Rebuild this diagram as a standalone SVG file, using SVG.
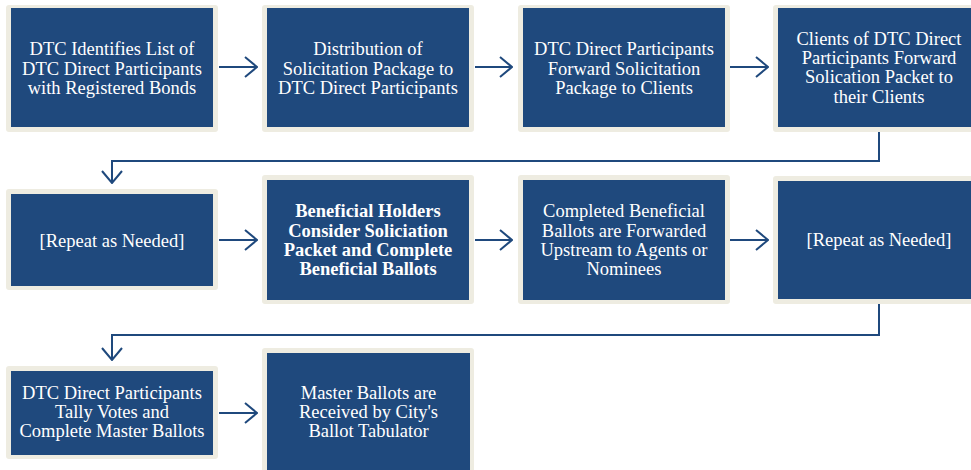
<svg xmlns="http://www.w3.org/2000/svg" width="971" height="470" viewBox="0 0 971 470">
  <defs>
    <marker id="chevron" viewBox="0 0 14 22" refX="13" refY="11" markerWidth="14" markerHeight="22" markerUnits="userSpaceOnUse" orient="auto">
      <path d="M1,1 L13,11 L1,21" fill="none" stroke="#1F497D" stroke-width="2"/>
    </marker>
  </defs>
  <style>
    .frame { fill: #EEECE1; }
    .box { fill: #1F497D; }
    .lbl { font-size: 18.5px; fill: #FFFFFF; text-anchor: middle; }
    .bold { font-weight: bold; }
    .conn { fill: none; stroke: #1F497D; stroke-width: 2; marker-end: url(#chevron); }
  </style>

  <rect width="971" height="470" fill="#FFFFFF"/>

  <g font-family="'Liberation Serif', 'Times New Roman', 'DejaVu Serif', serif">
  <!-- row 1 -->
  <g id="n1">
    <rect class="frame" x="6" y="5" width="212" height="127" rx="3"/>
    <rect class="box" x="11" y="8" width="202" height="119"/>
    <text class="lbl"><tspan x="112" y="55">DTC Identifies List of</tspan><tspan x="112" y="74.5">DTC Direct Participants</tspan><tspan x="112" y="94">with Registered Bonds</tspan></text>
  </g>
  <g id="n2">
    <rect class="frame" x="262" y="5" width="212" height="127" rx="3"/>
    <rect class="box" x="267" y="8" width="202" height="119"/>
    <text class="lbl"><tspan x="368" y="55">Distribution of</tspan><tspan x="368" y="74.5">Solicitation Package to</tspan><tspan x="368" y="94">DTC Direct Participants</tspan></text>
  </g>
  <g id="n3">
    <rect class="frame" x="518" y="5" width="212" height="127" rx="3"/>
    <rect class="box" x="523" y="8" width="202" height="119"/>
    <text class="lbl"><tspan x="624" y="55">DTC Direct Participants</tspan><tspan x="624" y="74.5">Forward Solicitation</tspan><tspan x="624" y="94">Package to Clients</tspan></text>
  </g>
  <g id="n4">
    <rect class="frame" x="773" y="5" width="212" height="127" rx="3"/>
    <rect class="box" x="778" y="8" width="202" height="119"/>
    <text class="lbl"><tspan x="879" y="44.5">Clients of DTC Direct</tspan><tspan x="879" y="64">Participants Forward</tspan><tspan x="879" y="83.3">Solication Packet to</tspan><tspan x="879" y="102.5">their Clients</tspan></text>
  </g>

  <!-- row 2 -->
  <g id="n5">
    <rect class="frame" x="6" y="189" width="212" height="101" rx="3"/>
    <rect class="box" x="11" y="194" width="202" height="92"/>
    <text class="lbl" x="112" y="246.5">[Repeat as Needed]</text>
  </g>
  <g id="n6">
    <rect class="frame" x="262" y="175" width="212" height="129" rx="3"/>
    <rect class="box" x="267" y="180" width="202" height="120"/>
    <text class="lbl bold"><tspan x="368" y="217">Beneficial Holders</tspan><tspan x="368" y="236.5">Consider Soliciation</tspan><tspan x="368" y="255.8">Packet and Complete</tspan><tspan x="368" y="275">Beneficial Ballots</tspan></text>
  </g>
  <g id="n7">
    <rect class="frame" x="518" y="175" width="212" height="129" rx="3"/>
    <rect class="box" x="523" y="180" width="202" height="120"/>
    <text class="lbl"><tspan x="624" y="217">Completed Beneficial</tspan><tspan x="624" y="236.5">Ballots are Forwarded</tspan><tspan x="624" y="255.8">Upstream to Agents or</tspan><tspan x="624" y="275">Nominees</tspan></text>
  </g>
  <g id="n8">
    <rect class="frame" x="773" y="176" width="212" height="128" rx="3"/>
    <rect class="box" x="778" y="181" width="202" height="118"/>
    <text class="lbl" x="879" y="246">[Repeat as Needed]</text>
  </g>

  <!-- row 3 -->
  <g id="n9">
    <rect class="frame" x="6" y="366" width="212" height="93" rx="3"/>
    <rect class="box" x="11" y="371" width="202" height="84"/>
    <text class="lbl"><tspan x="112" y="398.5">DTC Direct Participants</tspan><tspan x="112" y="418">Tally Votes and</tspan><tspan x="112" y="437.3">Complete Master Ballots</tspan></text>
  </g>
  <g id="n10">
    <rect class="frame" x="262" y="348" width="212" height="130" rx="3"/>
    <rect class="box" x="267" y="353" width="203" height="120"/>
    <text class="lbl"><tspan x="368.5" y="398.5">Master Ballots are</tspan><tspan x="368.5" y="418">Received by City's</tspan><tspan x="368.5" y="437.3">Ballot Tabulator</tspan></text>
  </g>
  </g>

  <!-- connectors -->
  <g id="connectors">
    <path class="conn" d="M219,67 H257"/>
    <path class="conn" d="M475,67 H512"/>
    <path class="conn" d="M730,67 H768"/>
    <path class="conn" d="M879,132 V161 H112 V183"/>
    <path class="conn" d="M219,240 H257"/>
    <path class="conn" d="M475,240 H512"/>
    <path class="conn" d="M730,240 H768"/>
    <path class="conn" d="M879,304 V335 H112 V360"/>
    <path class="conn" d="M219,413 H257"/>
  </g>
</svg>
